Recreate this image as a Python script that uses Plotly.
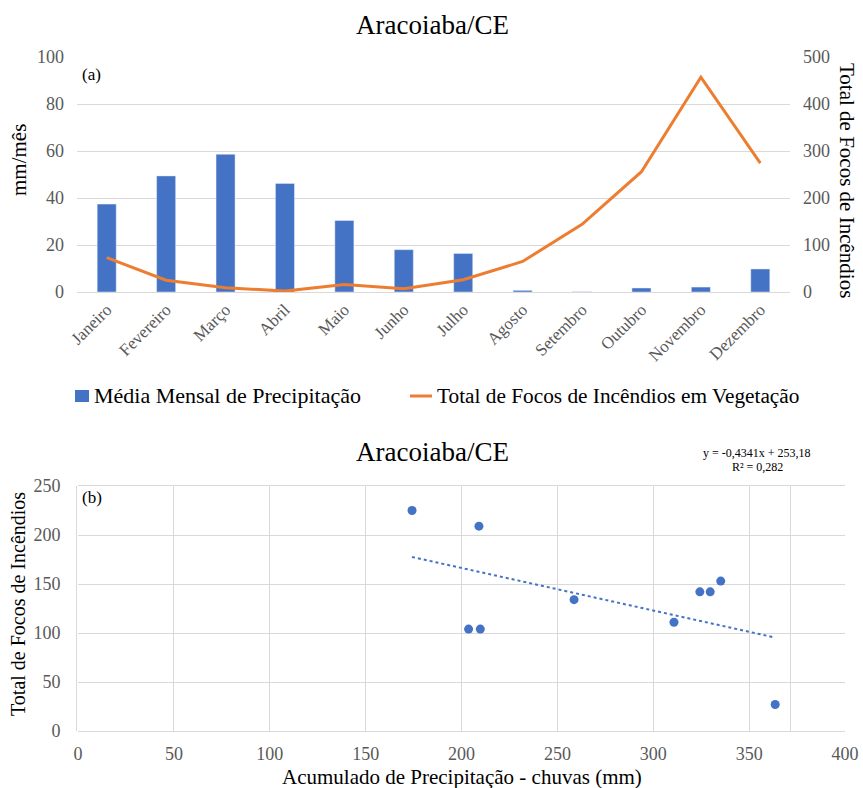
import plotly.graph_objects as go

# ---- data ----
months = ["Janeiro", "Fevereiro", "Março", "Abril", "Maio", "Junho", "Julho",
          "Agosto", "Setembro", "Outubro", "Novembro", "Dezembro"]
precip_mean = [37.4, 49.4, 58.6, 46.2, 30.4, 18.0, 16.4, 0.7, 0.1, 1.7, 2.1, 9.8]
fire_total = [73, 25, 9, 2, 16, 7, 26, 65, 144, 256, 457, 274]

scatter_x = [174.2, 209.1, 203.7, 209.8, 258.7, 310.8, 324.3, 329.7, 335.2, 363.6]
scatter_y = [225, 209, 104, 104, 134, 111, 142, 142, 153, 27]
trend_slope = -0.4341
trend_intercept = 253.18

BLUE = "#4472C4"
ORANGE = "#ED7D31"
GRID = "#d9d9d9"
TICK = "#595959"
FONT = "Liberation Serif"
W, H = 863, 788

fig = go.Figure()

fig.add_trace(go.Bar(x=months, y=precip_mean, name="Média Mensal de Precipitação",
                     marker_color=BLUE, xaxis="x", yaxis="y", showlegend=False))
fig.add_trace(go.Scatter(x=months, y=fire_total, name="Total de Focos de Incêndios em Vegetação",
                         mode="lines", line=dict(color=ORANGE, width=3), xaxis="x", yaxis="y2",
                         showlegend=False))

fig.add_trace(go.Scatter(x=scatter_x, y=scatter_y, mode="markers",
                         marker=dict(color=BLUE, size=9), showlegend=False,
                         xaxis="x2", yaxis="y3"))
tx = [min(scatter_x), max(scatter_x)]
ty = [trend_slope * v + trend_intercept for v in tx]
fig.add_trace(go.Scatter(x=tx, y=ty, mode="lines", line=dict(color=BLUE, width=2, dash="dot"),
                         showlegend=False, xaxis="x2", yaxis="y3"))

tickfont = dict(family=FONT, size=18, color=TICK)

fig.update_layout(
    width=W, height=H,
    margin=dict(l=0, r=0, t=0, b=0),
    paper_bgcolor="white", plot_bgcolor="white",
    font=dict(family=FONT, color="black"),
    bargap=0.68,
    showlegend=False,
    xaxis=dict(domain=[77 / W, 790 / W], anchor="y", tickangle=-45,
               tickfont=dict(family=FONT, size=17, color=TICK),
               showline=True, linecolor=GRID, showgrid=False, automargin=False, ticks=""),
    yaxis=dict(domain=[1 - 292 / H, 1 - 57 / H], range=[0, 100], dtick=20, tickfont=tickfont,
               gridcolor=GRID, zeroline=False, automargin=False, ticklabelstandoff=12),
    yaxis2=dict(overlaying="y", side="right", range=[0, 500], dtick=100, tickfont=tickfont,
                showgrid=False, zeroline=False, automargin=False, ticklabelstandoff=12),
    xaxis2=dict(domain=[78 / W, 845 / W], anchor="y3", range=[0, 400], dtick=50, tickfont=tickfont,
                gridcolor=GRID, showline=True, linecolor=GRID, mirror=True, zeroline=False,
                automargin=False, ticklabelstandoff=6),
    yaxis3=dict(domain=[1 - 731 / H, 1 - 486 / H], range=[0, 250], dtick=50, tickfont=tickfont,
                gridcolor=GRID, showline=True, linecolor=GRID, mirror=True, zeroline=False,
                automargin=False, ticklabelstandoff=12),
)

def px(x):
    return x / W

def py(y):
    return 1 - y / H

def ann(text, x, y, size, angle=0, xanchor="center", color="black"):
    return dict(text=text, x=px(x), y=py(y), xref="paper", yref="paper", showarrow=False,
                textangle=angle, xanchor=xanchor, yanchor="middle",
                font=dict(family=FONT, size=size, color=color))

annotations = [
    ann("Aracoiaba/CE", 433, 25, 27),
    ann("Aracoiaba/CE", 433, 452, 27),
    ann("mm/mês", 19, 160, 21, angle=-90),
    ann("Total de Focos de Incêndios", 847, 180, 21, angle=90),
    ann("(a)", 91, 74, 17),
    ann("(b)", 92, 497, 17),
    ann("Total de Focos de Incêndios", 18, 604, 20, angle=-90),
    ann("Acumulado de Precipitação - chuvas (mm)", 462, 777, 21),
    ann("y = -0,4341x + 253,18", 757, 453, 12),
    ann("R² = 0,282", 757, 467, 12),
    ann("Média Mensal de Precipitação", 92, 396, 22, xanchor="left"),
    ann("Total de Focos de Incêndios em Vegetação", 435, 396, 21.3, xanchor="left"),
]

shapes = [
    dict(type="rect", xref="paper", yref="paper", x0=px(75), x1=px(89), y0=py(402), y1=py(390),
         fillcolor=BLUE, line=dict(width=0)),
    dict(type="line", xref="paper", yref="paper", x0=px(410), x1=px(432), y0=py(396), y1=py(396),
         line=dict(color=ORANGE, width=3)),
]

fig.update_layout(annotations=annotations, shapes=shapes)

fig.write_html("out.html", config={"displayModeBar": False},
               post_script="document.body.style.margin='0px';")
